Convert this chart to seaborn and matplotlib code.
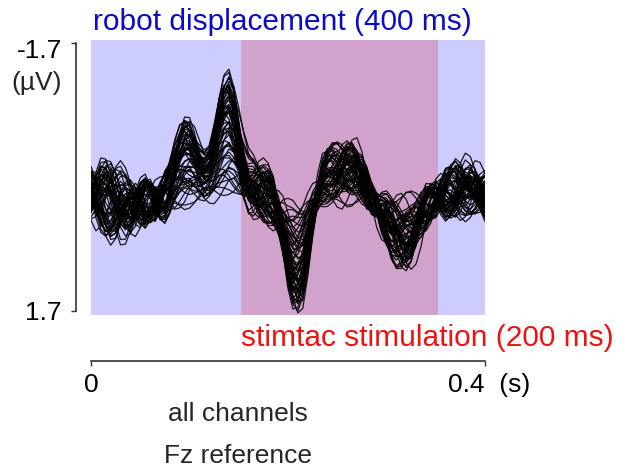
import numpy as np
import pandas as pd
import matplotlib
matplotlib.use("Agg")
import matplotlib.pyplot as plt
from matplotlib.transforms import ScaledTranslation
import seaborn as sns

# Sample times (s), 5 ms resolution over the 400 ms epoch
time_s = np.round(np.arange(81) * 0.005, 3)

# Waveform of the channel with the largest response (µV, negative up)
wave_large = [
    0.16, 0.19, 0.18, 0.20, 0.25, 0.30, 0.34, 0.36, 0.36, 0.33,
    0.29, 0.27, 0.28, 0.32, 0.30, 0.18, -0.04, -0.32, -0.58, -0.72,
    -0.70, -0.55, -0.36, -0.26, -0.33, -0.62, -1.00, -1.25, -1.30, -1.08,
    -0.66, -0.24, 0.01, 0.03, 0.03, 0.07, 0.12, 0.25, 0.52, 0.92,
    1.34, 1.62, 1.68, 1.54, 1.13, 0.64, 0.25, -0.03, -0.16, -0.21,
    -0.25, -0.29, -0.33, -0.36, -0.31, -0.17, 0.03, 0.22, 0.39, 0.53,
    0.66, 0.83, 0.97, 1.05, 1.06, 0.99, 0.82, 0.62, 0.46, 0.37,
    0.30, 0.27, 0.24, 0.20, 0.15, 0.12, 0.10, 0.11, 0.15, 0.21, 0.26,
]

# Waveform of the flattest channel
wave_flat = [
    0.19, 0.22, 0.25, 0.29, 0.33, 0.36, 0.37, 0.37, 0.36, 0.34,
    0.34, 0.36, 0.37, 0.38, 0.38, 0.37, 0.36, 0.34, 0.33, 0.32,
    0.30, 0.29, 0.28, 0.27, 0.25, 0.24, 0.22, 0.19, 0.16, 0.15,
    0.15, 0.16, 0.19, 0.23, 0.27, 0.30, 0.34, 0.37, 0.38, 0.38,
    0.38, 0.37, 0.36, 0.33, 0.29, 0.27, 0.24, 0.23, 0.22, 0.22,
    0.22, 0.23, 0.24, 0.25, 0.27, 0.28, 0.29, 0.30, 0.32, 0.33,
    0.34, 0.36, 0.36, 0.36, 0.34, 0.33, 0.32, 0.30, 0.29, 0.28,
    0.27, 0.25, 0.24, 0.23, 0.22, 0.20, 0.20, 0.22, 0.23, 0.24, 0.25,
]

# Channel-to-channel deviation patterns (two fast, in quadrature; one slow)
dev_a = [
    0.00, 0.21, 0.32, 0.24, 0.03, -0.19, -0.32, -0.26, -0.06, 0.16,
    0.30, 0.29, 0.13, -0.10, -0.24, -0.26, -0.13, 0.05, 0.14, 0.17,
    0.10, -0.01, -0.12, -0.14, -0.09, 0.01, 0.10, 0.13, 0.08, -0.01,
    -0.13, -0.19, -0.14, -0.02, 0.13, 0.21, 0.16, 0.05, -0.11, -0.19,
    -0.15, -0.05, 0.09, 0.17, 0.14, 0.05, -0.08, -0.17, -0.15, -0.05,
    0.08, 0.18, 0.18, 0.08, -0.08, -0.18, -0.19, -0.08, 0.06, 0.18,
    0.18, 0.08, -0.06, -0.18, -0.19, -0.08, 0.08, 0.21, 0.24, 0.13,
    -0.07, -0.21, -0.25, -0.14, 0.04, 0.20, 0.26, 0.17, 0.00, -0.17, -0.25,
]
dev_b = [
    0.32, 0.24, 0.03, -0.19, -0.32, -0.26, -0.06, 0.16, 0.30, 0.29,
    0.13, -0.10, -0.24, -0.26, -0.13, 0.05, 0.14, 0.17, 0.10, -0.01,
    -0.12, -0.14, -0.09, 0.01, 0.10, 0.13, 0.08, -0.01, -0.13, -0.19,
    -0.14, -0.02, 0.13, 0.21, 0.16, 0.05, -0.11, -0.19, -0.15, -0.05,
    0.09, 0.17, 0.14, 0.05, -0.08, -0.17, -0.15, -0.05, 0.08, 0.18,
    0.18, 0.08, -0.08, -0.18, -0.19, -0.08, 0.06, 0.18, 0.18, 0.08,
    -0.06, -0.18, -0.19, -0.08, 0.08, 0.21, 0.24, 0.13, -0.07, -0.21,
    -0.25, -0.14, 0.04, 0.20, 0.26, 0.17, 0.00, -0.17, -0.25, -0.19, -0.03,
]
dev_c = [
    0.18, 0.22, 0.25, 0.27, 0.29, 0.29, 0.27, 0.23, 0.20, 0.14,
    0.09, 0.04, -0.02, -0.05, -0.08, -0.09, -0.10, -0.10, -0.10, -0.09,
    -0.07, -0.06, -0.03, 0.00, 0.03, 0.06, 0.07, 0.08, 0.10, 0.13,
    0.18, 0.23, 0.27, 0.30, 0.30, 0.27, 0.23, 0.18, 0.12, 0.08,
    0.03, 0.00, -0.03, -0.06, -0.09, -0.12, -0.15, -0.17, -0.18, -0.18,
    -0.17, -0.15, -0.12, -0.09, -0.06, -0.03, 0.02, 0.06, 0.10, 0.13,
    0.15, 0.16, 0.17, 0.17, 0.16, 0.15, 0.12, 0.08, 0.03, -0.01,
    -0.06, -0.10, -0.14, -0.17, -0.20, -0.21, -0.22, -0.22, -0.21, -0.18, -0.15,
]

# Per-channel weights: response size and deviation loadings
chan_gain = [
    1.00, 0.97, 0.95, 0.93, 0.92, 0.90, 0.89, 0.88, 0.86, 0.85,
    0.84, 0.83, 0.82, 0.81, 0.80, 0.79, 0.78, 0.77, 0.76, 0.75,
    0.74, 0.73, 0.72, 0.71, 0.70, 0.69, 0.68, 0.67, 0.66, 0.65,
    0.64, 0.62, 0.60, 0.58, 0.56, 0.54, 0.52, 0.50, 0.48, 0.46,
    0.44, 0.42, 0.40, 0.38, 0.36, 0.34, 0.32, 0.30, 0.28, 0.26,
    0.24, 0.22, 0.20, 0.18, 0.15, 0.12, 0.10, 0.07, 0.04, 0.02,
]
chan_dev_a = [
    0.3, -0.5, 0.8, -0.2, 0.6, -0.9, 0.1, 0.7, -0.4, 0.9,
    -0.7, 0.2, -0.1, 0.5, -0.8, 0.4, -0.3, 1.0, -0.6, 0.0,
    0.6, -0.2, 0.9, -0.9, 0.3, -0.5, 0.7, -0.1, 0.2, -0.7,
    0.8, -0.4, 0.1, -0.8, 0.5, -0.3, 0.9, -0.6, 0.4, -1.0,
    0.2, 0.6, -0.2, 0.7, -0.5, 0.0, 0.8, -0.9, 0.3, -0.4,
    0.5, -0.7, 0.1, 0.9, -0.3, 0.4, -0.6, 0.2, -0.1, 0.6,
]
chan_dev_b = [
    -0.6, 0.4, 0.1, -0.9, 0.7, 0.3, -0.5, -0.2, 0.8, -0.1,
    0.5, -0.8, 0.9, -0.3, 0.2, -0.7, 0.6, 0.0, 0.4, -1.0,
    -0.4, 0.8, -0.6, 0.3, 0.1, 0.9, -0.2, -0.7, 0.5, 0.2,
    -0.3, 0.7, -0.9, 0.4, -0.1, 0.6, -0.5, 0.1, -0.8, 0.3,
    0.9, -0.4, 0.2, -0.6, 0.7, -0.2, 0.0, 0.5, -0.9, 0.8,
    -0.1, 0.3, -0.7, 0.6, 0.4, -0.5, 0.1, -0.3, 0.8, -0.4,
]
chan_dev_c = [
    0.5, -0.2, -0.8, 0.3, 0.9, -0.6, 0.0, 0.7, -0.4, -1.0,
    0.2, 0.8, -0.5, 0.4, -0.1, 0.6, -0.9, 0.1, 0.3, 0.7,
    -0.7, -0.3, 0.5, 0.9, -0.2, 0.0, -0.8, 0.6, 0.2, -0.5,
    1.0, -0.1, 0.4, -0.6, -0.9, 0.3, 0.7, 0.1, -0.3, 0.5,
    -0.4, 0.8, -0.7, 0.2, 0.6, -1.0, 0.4, -0.2, 0.9, 0.0,
    0.3, -0.6, 0.7, -0.4, 0.1, 0.8, -0.3, -0.8, 0.5, -0.1,
]

y_ticks = [-1.7, 1.7]
y_tick_labels = ["-1.7", "1.7"]
x_ticks = [0.0, 0.4]
x_tick_labels = ["0", "0.4  (s)"]
robot_window = (0.0, 0.4)
stim_window = (0.152, 0.352)

# Long-format table of all channels
big = np.array(wave_large)
flat = np.array(wave_flat)
da, db, dc = np.array(dev_a), np.array(dev_b), np.array(dev_c)
frames = []
for ch, (g, ca, cb, cc) in enumerate(zip(chan_gain, chan_dev_a,
                                         chan_dev_b, chan_dev_c)):
    v = g * big + (1 - g) * flat + ca * da + cb * db + cc * dc
    frames.append(pd.DataFrame({"time": time_s, "uv": v, "channel": ch}))
df = pd.concat(frames, ignore_index=True)

sns.set_style("ticks")
plt.rcParams["font.family"] = ["Liberation Sans", "DejaVu Sans"]

W, H = 617, 474
fig = plt.figure(figsize=(W / 100, H / 100), dpi=100)
ax = fig.add_axes([91 / W, 1 - 315 / H, 394 / W, 275 / H])

ax.axvspan(*robot_window, color="#CCCCFE", lw=0, zorder=0)
ax.axvspan(*stim_window, color="#D1A3CC", lw=0, zorder=0.5)

sns.lineplot(data=df, x="time", y="uv", units="channel", estimator=None,
             color="#000000", lw=0.9, alpha=0.88, ax=ax, legend=False)

ax.set_xlim(0, 0.4)
ax.set_ylim(1.751, -1.738)
ax.set_xlabel("")
ax.set_ylabel("")

for s in ("top", "right"):
    ax.spines[s].set_visible(False)
ax.spines["left"].set_position(("outward", 10.8))
ax.spines["left"].set_bounds(-1.7, 1.7)
ax.spines["bottom"].set_position(("outward", 33.1))
ax.spines["bottom"].set_bounds(0, 0.4)
for s in ("left", "bottom"):
    ax.spines[s].set_color("#333333")
    ax.spines[s].set_linewidth(1.2)

ax.set_yticks(y_ticks)
ax.set_yticklabels(y_tick_labels)
ax.set_xticks(x_ticks)
ax.set_xticklabels(x_tick_labels)
ax.tick_params(axis="y", length=3.5, width=1, color="#333333", pad=6.5,
               labelsize=19, labelcolor="black")
ax.tick_params(axis="x", length=3.5, width=1, color="#333333", pad=5,
               labelsize=19, labelcolor="black")
lab_top = ax.get_yticklabels()[0]
lab_top.set_transform(lab_top.get_transform()
                      + ScaledTranslation(0, -0.06, fig.dpi_scale_trans))
lab_s = ax.get_xticklabels()[1]
lab_s.set_transform(lab_s.get_transform()
                    + ScaledTranslation(0.04, 0, fig.dpi_scale_trans))

fig.text(62 / W, 1 - 83 / H, "(µV)", ha="right", va="center", fontsize=19)
fig.text(93 / W, 1 - 29.5 / H, "robot displacement (400 ms)", ha="left",
         va="baseline", fontsize=21.5, color="#0A0ACC")
fig.text(241 / W, 1 - 346 / H, "stimtac stimulation (200 ms)", ha="left",
         va="baseline", fontsize=21.5, color="#EE1111")
fig.text(238 / W, 1 - 414 / H, "all channels", ha="center", va="center",
         fontsize=19)
fig.text(238 / W, 1 - 456 / H, "Fz reference", ha="center", va="center",
         fontsize=19)

fig.savefig("out.png", dpi=100)
